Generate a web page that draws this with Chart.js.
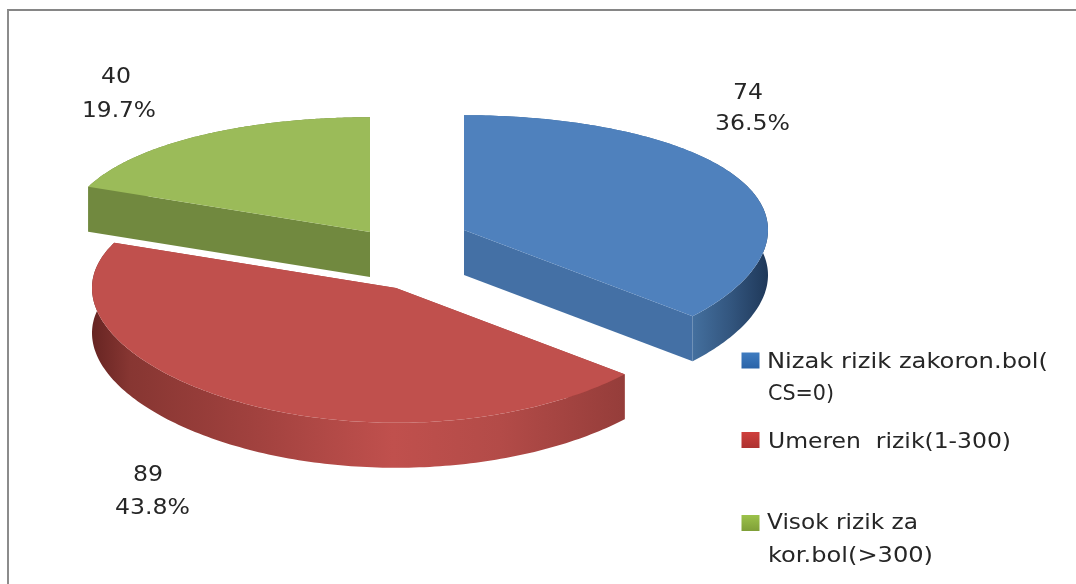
<!DOCTYPE html>
<html><head><meta charset="utf-8">
<style>
html,body{margin:0;padding:0;background:#fff;overflow:hidden}
#frame{position:absolute;left:7px;top:9px;width:1080px;height:600px;border-top:2px solid #868686;border-left:2px solid #8c8c8c;box-sizing:content-box}
canvas{position:absolute;left:0;top:0;filter:blur(0.5px)}
</style>
<script src="https://cdn.jsdelivr.net/npm/chart.js@4"></script>
</head><body>
<div id="frame"></div>
<canvas id="c" width="1076" height="584"></canvas>
<script>
const categories = ["Nizak rizik zakoron.bol( CS=0)", "Umeren  rizik(1-300)", "Visok rizik za kor.bol(>300)"];
const legendLines = [["Nizak rizik zakoron.bol(", "CS=0)"], ["Umeren  rizik(1-300)"], ["Visok rizik za", "kor.bol(>300)"]];
const values = [74, 89, 40];
const colors = ["#4F81BD", "#C0504D", "#9BBB59"];
const faceColors = ["#4470A5", "#A5433F", "#71893F"];

// layout of the exploded 3D projection
const centres = [[464, 230], [396, 288], [370, 232]];
const RX = 304, RY = 124, PERSP = 0.08, DEPTH = 45, WARP = 3.36 * Math.PI / 180;
const rimStops = [
  [[692, "#44709f"], [730, "#33567f"], [768, "#1f3859"]],
  [[91, "#662422"], [130, "#873632"], [250, "#a0413e"], [393, "#c0504d"], [500, "#b34b48"], [625, "#953d3a"]],
  [[80, "#71893F"], [370, "#71893F"]]
];
const labelPos = [[[748, 94], [752.5, 125], 75], [[148, 476], [152.5, 509], 75], [[116, 78], [119, 112], 74]];
const legendPos = [
  {sw: [741.5, 352.5], fill: ["#3f7cc0", "#2a63a8"], lines: [[767, 368, 281], [768, 400, 66]]},
  {sw: [741.5, 432], fill: ["#cf3f3c", "#ad3230"], lines: [[768, 448, 243]]},
  {sw: [741.5, 515], fill: ["#9cc24a", "#7f9f38"], lines: [[767, 529, 151], [768, 562, 165]]}
];

function project(i, theta) {
  const t = theta > Math.PI ? theta + WARP * Math.pow(Math.sin(theta), 2) : theta;
  const u = Math.sin(t), v = -Math.cos(t);
  const [cx, cy] = centres[i];
  return [cx + RX * u, cy + RY * v / (1 - PERSP * v)];
}
function arcPoints(i, a, b) {
  const pts = [], n = 160;
  for (let k = 0; k <= n; k++) pts.push(project(i, a + (b - a) * k / n));
  return pts;
}
function poly(ctx, pts, fill) {
  ctx.beginPath();
  pts.forEach((p, k) => k ? ctx.lineTo(p[0], p[1]) : ctx.moveTo(p[0], p[1]));
  ctx.closePath();
  ctx.fillStyle = fill;
  ctx.fill();
}
function fitText(ctx, text, x, y, width) {
  const w = ctx.measureText(text).width;
  ctx.save();
  ctx.translate(x, y);
  ctx.scale(width / w, 1);
  ctx.fillText(text, 0, 0);
  ctx.restore();
}

const pie3d = {
  id: "pie3d",
  beforeDatasetDraw(chart, args) {
    const ctx = chart.ctx;
    const arcs = chart.getDatasetMeta(args.index).data;
    const order = [2, 0, 1];
    ctx.save();
    order.forEach(i => {
      const a = arcs[i].startAngle + Math.PI / 2, b = arcs[i].endAngle + Math.PI / 2;
      const pts = arcPoints(i, a, b);
      const c = centres[i];
      const down = p => [p[0], p[1] + DEPTH];
      const first = pts[0], last = pts[pts.length - 1];
      poly(ctx, [c, first, down(first), down(c)], faceColors[i]);
      poly(ctx, [c, last, down(last), down(c)], faceColors[i]);
      const g = ctx.createLinearGradient(0, 0, 1076, 0);
      rimStops[i].forEach(s => g.addColorStop(s[0] / 1076, s[1]));
      poly(ctx, pts.concat(pts.map(down).reverse()), g);
      poly(ctx, [c].concat(pts), arcs[i].options.backgroundColor);
    });
    ctx.restore();
    return false;
  },
  afterDraw(chart) {
    const ctx = chart.ctx;
    const total = values.reduce((s, v) => s + v, 0);
    ctx.save();
    ctx.fillStyle = "#262626";
    ctx.textBaseline = "middle";
    ctx.font = "21px 'DejaVu Sans'";
    values.forEach((v, i) => {
      const [p1, p2, w] = labelPos[i];
      ctx.textAlign = "left";
      fitText(ctx, String(v), p1[0] - 15, p1[1], 30);
      const pct = (v / total * 100).toFixed(1) + "%";
      fitText(ctx, pct, p2[0] - w / 2, p2[1], w);
    });
    ctx.textBaseline = "alphabetic";
    ctx.textAlign = "left";
    legendLines.forEach((lines, i) => {
      const L = legendPos[i];
      const g = ctx.createLinearGradient(0, L.sw[1], 0, L.sw[1] + 16);
      g.addColorStop(0, L.fill[0]); g.addColorStop(1, L.fill[1]);
      ctx.fillStyle = g;
      ctx.fillRect(L.sw[0], L.sw[1], 18, 16);
      ctx.fillStyle = "#262626";
      ctx.font = "21px 'DejaVu Sans'";
      lines.forEach((t, k) => fitText(ctx, t, L.lines[k][0], L.lines[k][1], L.lines[k][2]));
    });
    ctx.restore();
  }
};

new Chart(document.getElementById("c"), {
  type: "pie",
  data: { labels: categories, datasets: [{ data: values, backgroundColor: colors, borderWidth: 0 }] },
  options: {
    responsive: false, animation: false, events: [],
    plugins: { legend: { display: false }, tooltip: { enabled: false } }
  },
  plugins: [pie3d]
});
</script>
</body></html>
